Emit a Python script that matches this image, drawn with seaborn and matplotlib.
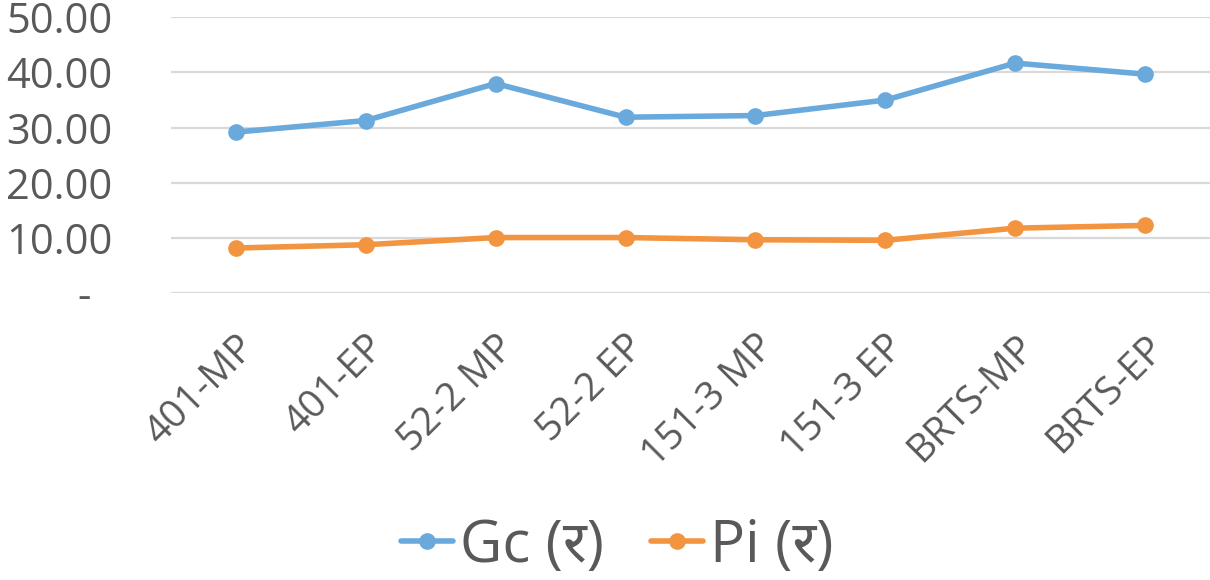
import matplotlib
matplotlib.use("Agg")
import matplotlib.pyplot as plt
import seaborn as sns
import pandas as pd

# Route / period categories along the x axis
routes = ["401-MP", "401-EP", "52-2 MP", "52-2 EP", "151-3 MP", "151-3 EP", "BRTS-MP", "BRTS-EP"]
gc_values = [29.2, 31.3, 38.0, 31.9, 32.2, 35.0, 41.7, 39.7]
pi_values = [8.2, 8.8, 10.1, 10.1, 9.7, 9.6, 11.8, 12.3]
series_names = ["Gc (र)", "Pi (र)"]
y_ticks = [0, 10, 20, 30, 40, 50]

df = pd.DataFrame({
    "route": routes * 2,
    "value": gc_values + pi_values,
    "series": [series_names[0]] * len(routes) + [series_names[1]] * len(routes),
})

sns.set_theme(style="white")
plt.rcParams["font.family"] = ["Open Sans", "Noto Sans", "DejaVu Sans"]

text_color = "#595959"
palette = {series_names[0]: "#6AA9DC", series_names[1]: "#F29440"}

fig = plt.figure(figsize=(12.1, 5.8), dpi=100)
ax = fig.add_axes([0.1413, 0.4943, 0.8587, 0.4759])

sns.lineplot(
    data=df, x="route", y="value", hue="series", palette=palette,
    marker="o", markersize=12, markeredgewidth=0, linewidth=4,
    sort=False, ax=ax, legend=True,
)

ax.set_xlim(-0.5, len(routes) - 0.5)
ax.set_ylim(0, 50)
ax.set_yticks(y_ticks)
ax.set_yticklabels([f"{v:.2f}" if v else "-  " for v in y_ticks])
ax.grid(axis="y", color="#D9D9D9", linewidth=1.6)
ax.grid(axis="x", visible=False)
ax.set_axisbelow(True)
for s in ax.spines.values():
    s.set_visible(False)
ax.set_xlabel("")
ax.set_ylabel("")

ax.tick_params(axis="y", length=0, pad=42, labelsize=30, labelcolor=text_color)
ax.tick_params(axis="x", length=0, pad=25, labelsize=28, labelcolor=text_color)
for lbl in ax.get_xticklabels():
    lbl.set_rotation(45)
    lbl.set_ha("right")
    lbl.set_va("top")
    lbl.set_rotation_mode("anchor")

handles, labels = ax.get_legend_handles_labels()
ax.legend_.remove()
fig.legend(
    handles, labels, loc="center", bbox_to_anchor=(0.51, 0.058), ncol=2,
    frameon=False, fontsize=42, labelcolor=text_color,
    handlelength=0.9, handletextpad=0.12, columnspacing=0.8, borderpad=0,
)

fig.savefig("out.png", dpi=100)
